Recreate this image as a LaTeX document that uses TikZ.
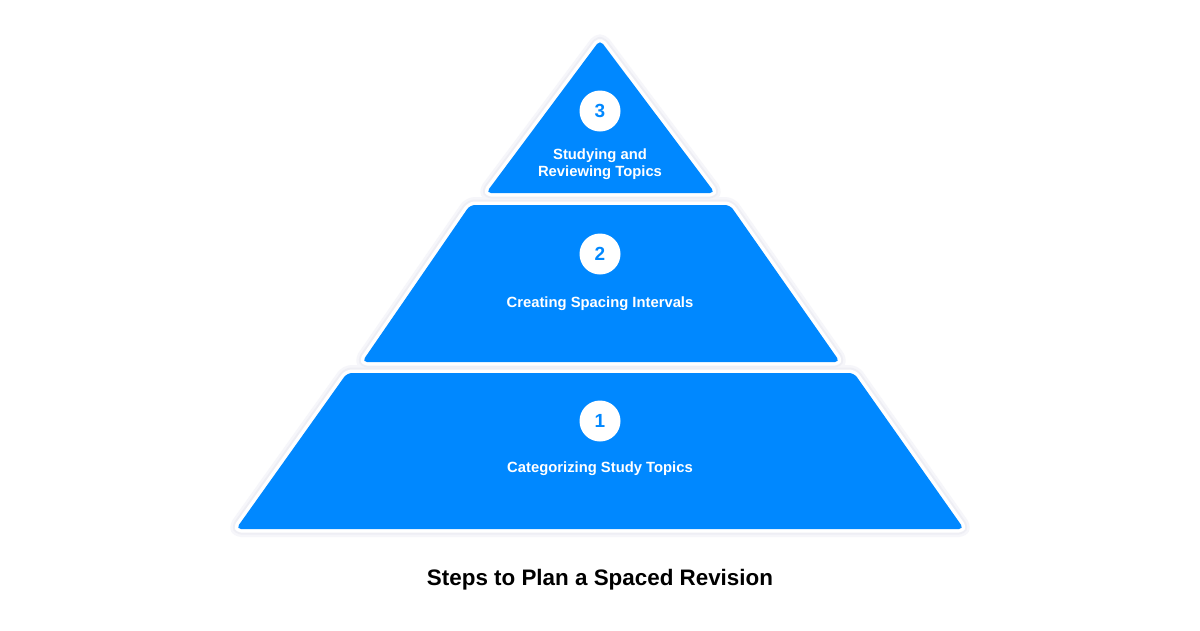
\documentclass[tikz,border=0pt]{standalone}
\usepackage{fontspec}
\setmainfont{Liberation Sans}
\definecolor{pblue}{HTML}{0088FF}
\definecolor{glow}{HTML}{EEEEF4}
\definecolor{glowb}{HTML}{F6F6FA}
\tikzset{
  layer/.style={fill=pblue, rounded corners=5pt},
  rim/.style={draw=white, line width=7pt, rounded corners=5pt, line join=round},
  halo/.style={draw=glow, line width=11pt, rounded corners=5pt, line join=round},
  halob/.style={draw=glowb, line width=16pt, rounded corners=5pt, line join=round},
  numcirc/.style={circle, fill=white, minimum size=41pt, inner sep=0pt, text=pblue, font=\fontsize{19}{19}\selectfont\bfseries},
  lbl/.style={text=white, align=center, font=\fontsize{14.8}{16.5}\selectfont\bfseries},
}
\begin{document}
\begin{tikzpicture}[x=1pt,y=-1pt]
\useasboundingbox[fill=white] (0,0) rectangle (1200,630);
% shapes
\foreach \p in {
  {(600,40) -- (715,193) -- (486,193) -- cycle},
  {(470,205) -- (730,205) -- (840,362) -- (362,362) -- cycle},
  {(347,373) -- (854,373) -- (964,529) -- (236,529) -- cycle}}{
  \path[halob] \p;
}
\foreach \p in {
  {(600,40) -- (715,193) -- (486,193) -- cycle},
  {(470,205) -- (730,205) -- (840,362) -- (362,362) -- cycle},
  {(347,373) -- (854,373) -- (964,529) -- (236,529) -- cycle}}{
  \path[halo] \p;
}
\foreach \p in {
  {(600,40) -- (715,193) -- (486,193) -- cycle},
  {(470,205) -- (730,205) -- (840,362) -- (362,362) -- cycle},
  {(347,373) -- (854,373) -- (964,529) -- (236,529) -- cycle}}{
  \path[rim] \p;
}
\path[layer] (600,40) -- (715,193) -- (486,193) -- cycle;
\path[layer] (470,205) -- (730,205) -- (840,362) -- (362,362) -- cycle;
\path[layer] (347,373) -- (854,373) -- (964,529) -- (236,529) -- cycle;
% numbers
\node[numcirc] (n3) at (600,111) {3};
\node[numcirc] (n2) at (600,254) {2};
\node[numcirc] (n1) at (600,421) {1};
% labels
\node[lbl] (t3) at (600,164) {Studying and\\Reviewing Topics};
\node[lbl] (t2) at (600,304) {Creating Spacing Intervals};
\node[lbl] (t1) at (600,469) {Categorizing Study Topics};
\node[font=\fontsize{22.4}{22.4}\selectfont\bfseries] (title) at (600,580) {Steps to Plan a Spaced Revision};
\end{tikzpicture}
\end{document}
